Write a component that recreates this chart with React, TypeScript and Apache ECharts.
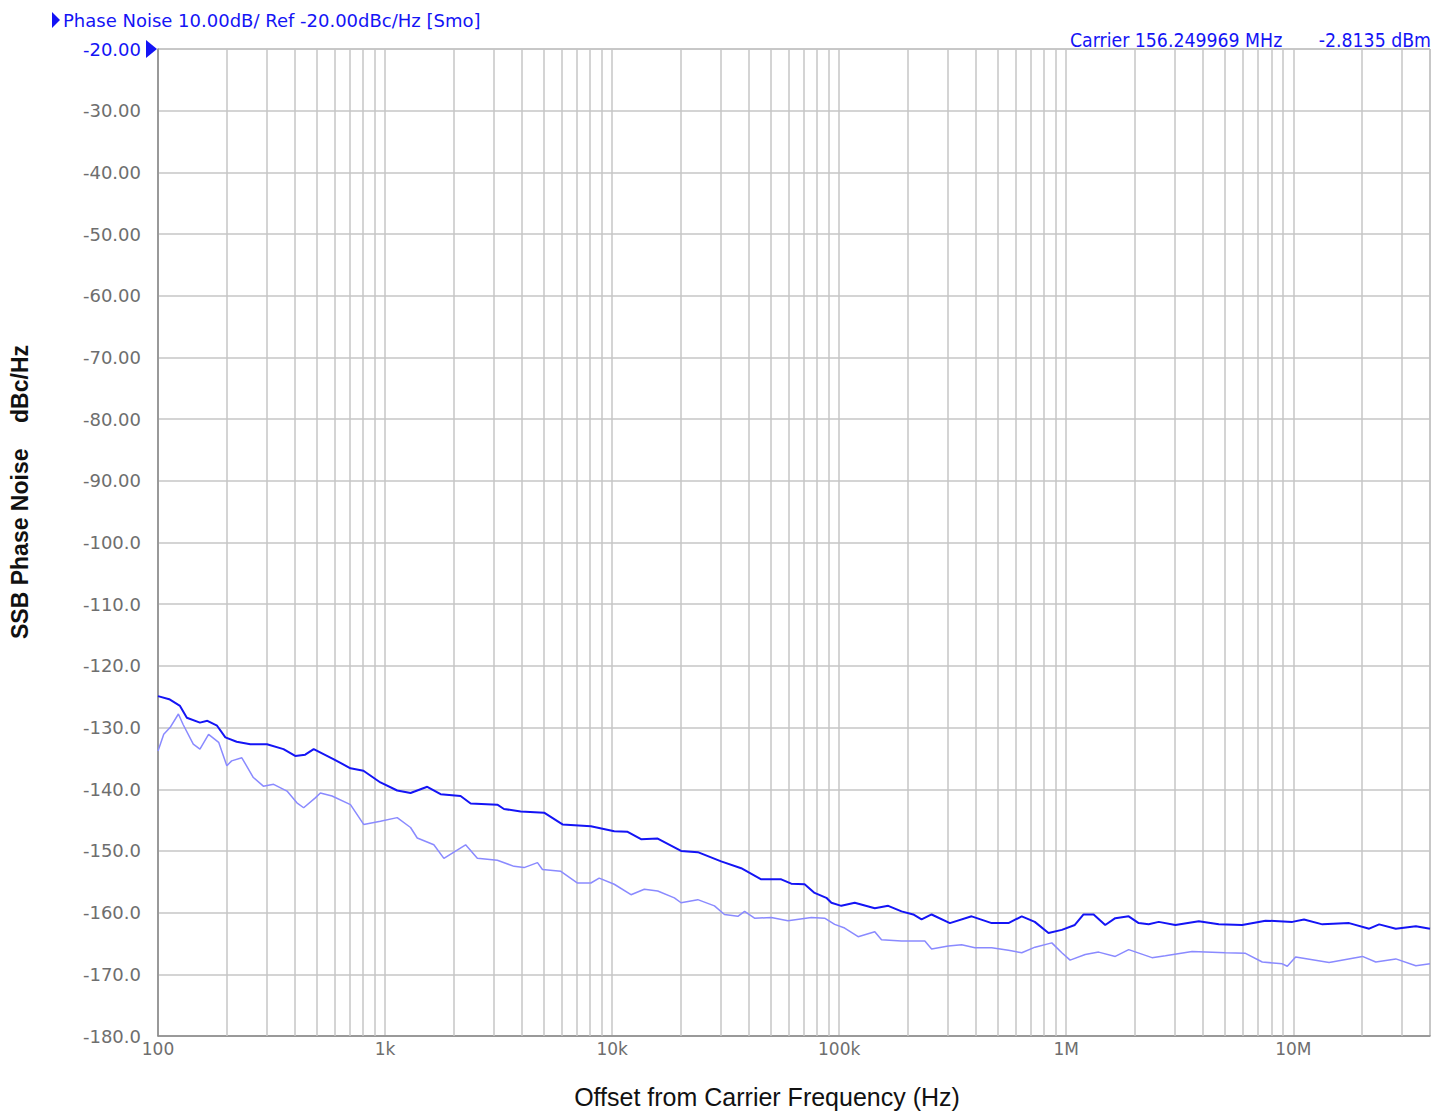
import React, { useEffect, useRef } from "react";
import * as echarts from "echarts";

// Offset frequencies (Hz) and SSB phase noise (dBc/Hz)
const traceAFreq = [100,112,125,134,153,165,182,198,222,255,302,357,402,445,485,592,704,803,954,1131,1295,1534,1756,2151,2382,3123,3340,3958,5016,6047,8062,10216,11706,13405,15879,20120,23840,30210,37020,45350,55570,61520,70430,77950,87800,92400,102200,117100,143500,164400,188200,211900,230600,255300,307300,383100,469600,556500,637000,726800,835600,956300,1091000,1192000,1320000,1485000,1644000,1884000,2085000,2308000,2555000,3024000,3836000,4699000,5955000,7547000,9900000,11150000,13430000,17610000,21590000,23890000,28280000,34650000,40000000];
const traceAValues = [-124.9,-125.4,-126.5,-128.4,-129.2,-128.9,-129.7,-131.6,-132.3,-132.7,-132.7,-133.5,-134.6,-134.4,-133.5,-135.1,-136.6,-137.0,-138.9,-140.2,-140.6,-139.6,-140.8,-141.1,-142.3,-142.5,-143.2,-143.6,-143.8,-145.7,-146.0,-146.8,-146.9,-148.1,-148.0,-150.0,-150.2,-151.7,-152.8,-154.6,-154.6,-155.3,-155.4,-156.8,-157.6,-158.4,-158.9,-158.4,-159.3,-158.9,-159.8,-160.3,-161.1,-160.3,-161.7,-160.6,-161.7,-161.7,-160.6,-161.5,-163.3,-162.8,-162.0,-160.3,-160.3,-162.0,-160.9,-160.6,-161.7,-161.9,-161.5,-162.0,-161.4,-161.9,-162.0,-161.3,-161.5,-161.1,-161.9,-161.7,-162.6,-161.9,-162.6,-162.2,-162.6];

const traceBFreq = [100,106,113,123,129,143,153,167,185,201,211,234,263,291,323,370,409,438,493,519,584,704,805,954,1131,1295,1386,1640,1816,2263,2549,3123,3698,4094,4690,4934,5944,7044,8062,8773,10216,12110,13860,15879,18800,20120,23840,28230,31240,35800,38320,42380,50220,59500,75400,86300,95500,105700,121200,143500,153600,188200,238400,255300,302500,346200,396300,469600,556500,637000,729000,864000,956300,1040000,1212000,1389000,1644000,1884000,2386000,2733000,3584000,5027000,6159000,7299000,8944000,9410000,10240000,14380000,20160000,23080000,28280000,34650000,40000000];
const traceBValues = [-133.8,-131.1,-130.0,-127.8,-129.5,-132.7,-133.5,-131.1,-132.4,-136.2,-135.4,-134.9,-138.1,-139.5,-139.2,-140.3,-142.2,-143.0,-141.4,-140.6,-141.1,-142.5,-145.7,-145.2,-144.6,-146.2,-147.9,-149.0,-151.2,-149.0,-151.2,-151.5,-152.5,-152.7,-151.9,-153.0,-153.3,-155.2,-155.2,-154.4,-155.4,-157.1,-156.2,-156.5,-157.6,-158.4,-157.9,-158.9,-160.3,-160.6,-159.8,-160.9,-160.8,-161.3,-160.8,-160.9,-161.9,-162.5,-163.9,-163.1,-164.4,-164.6,-164.6,-165.9,-165.4,-165.2,-165.7,-165.7,-166.1,-166.5,-165.6,-164.9,-166.5,-167.7,-166.8,-166.4,-167.1,-166.0,-167.3,-167.0,-166.3,-166.5,-166.6,-168.0,-168.3,-168.7,-167.2,-168.1,-167.1,-168.0,-167.5,-168.6,-168.3];

const xMin = 100;
const xMax = 40000000;
const yMin = -180;
const yMax = -20;
const yStep = 10;
const decadeLabels: Record<number, string> = { 2: "100", 3: "1k", 4: "10k", 5: "100k", 6: "1M", 7: "10M" };

const headerText = "Phase Noise 10.00dB/ Ref -20.00dBc/Hz [Smo]";
const carrierText = "Carrier 156.249969 MHz";
const powerText = "-2.8135 dBm";
const xTitle = "Offset from Carrier Frequency (Hz)";
const yTitle = "SSB Phase Noise    dBc/Hz";

const BLUE = "#1414f5";
const GRID = "#c6c6c6";
const LABEL = "#6e6e6e";

export default function App() {
  const ref = useRef<HTMLDivElement>(null);
  useEffect(() => {
    if (!ref.current) return;
    const chart = echarts.init(ref.current, undefined, { renderer: "svg" });

    // minor vertical grid positions (2..9 x decade)
    const minorLines: any[] = [];
    for (let p = 2; p <= 7; p++) {
      for (let m = 2; m <= 9; m++) {
        const v = m * Math.pow(10, p);
        if (v < xMax) minorLines.push({ xAxis: v });
      }
    }

    const pairsA = traceAFreq.map((f, i) => [f, traceAValues[i]]);
    const pairsB = traceBFreq.map((f, i) => [f, traceBValues[i]]);

    chart.setOption({
      animation: false,
      backgroundColor: "#ffffff",
      grid: {
        left: 158,
        top: 49,
        right: 15,
        bottom: 76,
        show: true,
        borderColor: "#9a9a9a",
        borderWidth: 1,
        backgroundColor: "transparent",
      },
      xAxis: {
        type: "log",
        logBase: 10,
        min: xMin,
        max: xMax,
        axisLine: { show: true, lineStyle: { color: "#8a8a8a", width: 1.5 } },
        axisTick: { show: false },
        axisLabel: {
          show: true,
          margin: 4,
          showMaxLabel: false,
          fontFamily: "'DejaVu Sans', sans-serif",
          fontSize: 17,
          color: LABEL,
          formatter: (v: number) => {
            const e = Math.round(Math.log10(v));
            if (Math.abs(Math.log10(v) - e) > 1e-6) return "";
            return decadeLabels[e] ?? "";
          },
        },
        splitLine: { show: true, lineStyle: { color: GRID, width: 1.5 } },
      },
      yAxis: {
        type: "value",
        min: yMin,
        max: yMax,
        interval: yStep,
        axisLine: { show: true, lineStyle: { color: "#8a8a8a", width: 1.5 } },
        axisTick: { show: false },
        axisLabel: {
          margin: 17,
          fontFamily: "'DejaVu Sans', sans-serif",
          fontSize: 18,
          color: (v: any) => (Number(v) === yMax ? BLUE : LABEL),
          formatter: (v: number) => (v > -100 ? v.toFixed(2) : v.toFixed(1)),
        },
        splitLine: { show: true, lineStyle: { color: GRID, width: 1.5 } },
      },
      series: [
        {
          type: "line",
          name: "trace B",
          data: pairsB,
          showSymbol: false,
          symbol: "none",
          lineStyle: { color: "#8a8aff", width: 1.5 },
          z: 3,
          markLine: {
            silent: true,
            symbol: "none",
            animation: false,
            label: { show: false },
            lineStyle: { color: GRID, width: 1.5, type: "solid" },
            data: minorLines,
            z: 1,
          },
        },
        {
          type: "line",
          name: "trace A",
          data: pairsA,
          showSymbol: false,
          symbol: "none",
          lineStyle: { color: BLUE, width: 2 },
          z: 4,
        },
      ],
      graphic: [
        {
          type: "polygon",
          shape: { points: [[52, 12], [60, 20], [52, 28]] },
          style: { fill: BLUE },
        },
        {
          type: "text",
          x: 63,
          y: 20,
          style: {
            text: headerText,
            fontFamily: "'DejaVu Sans', sans-serif",
            fontSize: 18,
            fill: BLUE,
            verticalAlign: "middle",
          },
        },
        {
          type: "polygon",
          shape: { points: [[146, 40], [157, 49], [146, 58]] },
          style: { fill: BLUE },
        },
        {
          type: "text",
          x: 1070,
          y: 40,
          style: {
            text: carrierText,
            fontFamily: "'DejaVu Sans Condensed', 'DejaVu Sans', sans-serif",
            fontSize: 19.3,
            fill: BLUE,
            verticalAlign: "middle",
          },
        },
        {
          type: "text",
          x: 1431,
          y: 40,
          style: {
            text: powerText,
            fontFamily: "'DejaVu Sans Condensed', 'DejaVu Sans', sans-serif",
            fontSize: 19.3,
            fill: BLUE,
            align: "right",
            verticalAlign: "middle",
          },
        },
        {
          type: "text",
          x: 767,
          y: 1097,
          style: {
            text: xTitle,
            fontFamily: "'Liberation Sans Narrow', 'Liberation Sans', Arial, sans-serif",
            fontSize: 25,
            fill: "#111111",
            align: "center",
            verticalAlign: "middle",
          },
        },
        {
          type: "text",
          x: 20,
          y: 492,
          rotation: Math.PI / 2,
          style: {
            text: yTitle,
            fontFamily: "'Liberation Sans', Arial, sans-serif",
            fontWeight: "bold",
            fontSize: 23,
            fill: "#111111",
            align: "center",
            verticalAlign: "middle",
          },
        },
      ],
    });
    return () => chart.dispose();
  }, []);

  return (
    <div
      ref={ref}
      style={{ position: "fixed", left: 0, top: 0, width: 1445, height: 1112, background: "#fff" }}
    />
  );
}
